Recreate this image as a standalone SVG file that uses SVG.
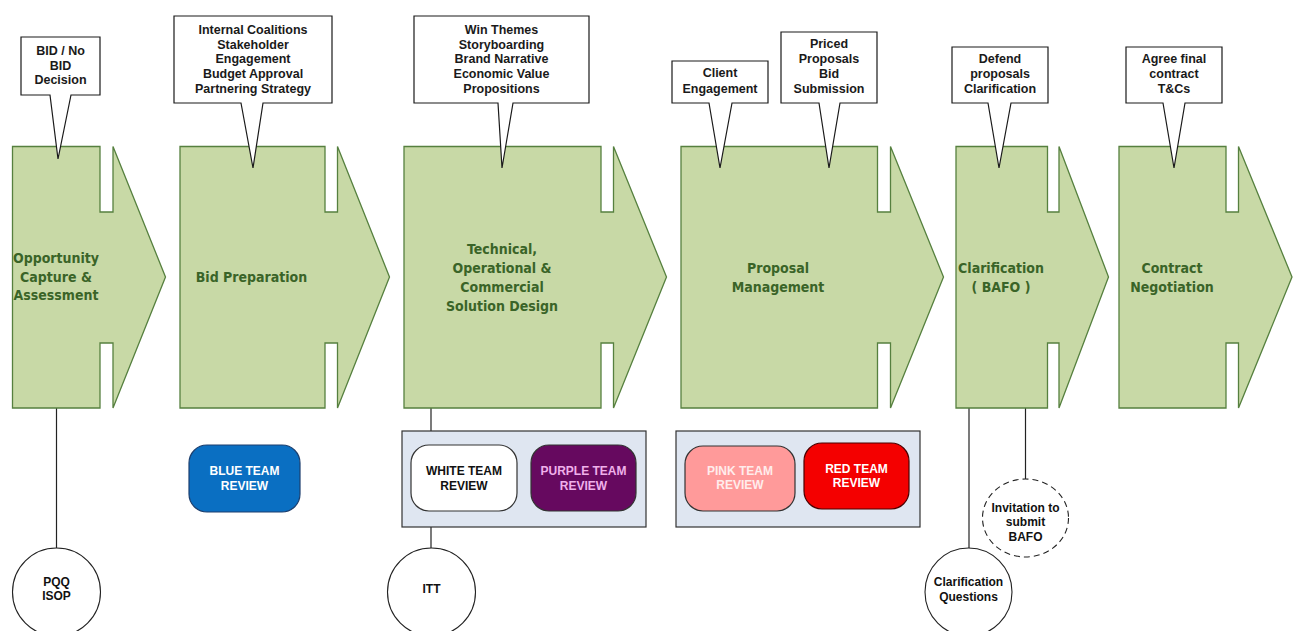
<svg xmlns="http://www.w3.org/2000/svg" width="1295" height="631" viewBox="0 0 1295 631">
<style>
.chev{fill:#c8d9a6;stroke:#56803f;stroke-width:1.3}
.lbl{font-family:"DejaVu Sans Condensed","DejaVu Sans",sans-serif;font-stretch:condensed;font-weight:bold;font-size:14px;fill:#3a6428;text-anchor:middle}
.call{fill:#ffffff;stroke:#1a1a1a;stroke-width:1.2}
.ct{font-family:"Liberation Sans",Arial,sans-serif;font-weight:bold;font-size:12.5px;fill:#1a1a1a;text-anchor:middle}
.rt{font-family:"Liberation Sans",Arial,sans-serif;font-weight:bold;font-size:12px;text-anchor:middle}
.conn{stroke:#222;stroke-width:1.2;fill:none}
.circ{fill:#ffffff;stroke:#222;stroke-width:1.1}
.grp{fill:#dfe6f1;stroke:#333;stroke-width:1.2}
</style>
<rect width="1295" height="631" fill="#ffffff"/>
<g id="connectors">
<line class="conn" x1="56.5" y1="408" x2="56.5" y2="548"/>
<line class="conn" x1="431" y1="408" x2="431" y2="431"/>
<line class="conn" x1="431" y1="527" x2="431" y2="548"/>
<line class="conn" x1="969" y1="408" x2="969" y2="548"/>
<line class="conn" x1="1025.5" y1="408" x2="1025.5" y2="479"/>
</g>
<g id="stage1">
<path class="chev" d="M12.5,146.5 H100 V212 H113 V146.5 L165.5,277 L113,408 V343 H100 V408 H12.5 Z"/>
<text class="lbl"><tspan x="56" y="263">Opportunity</tspan><tspan x="56" y="282">Capture &amp;</tspan><tspan x="56" y="300">Assessment</tspan></text>
</g>
<g id="stage2">
<path class="chev" d="M180,146.5 H325 V212 H337.5 V146.5 L389.5,277 L337.5,408 V343 H325 V408 H180 Z"/>
<text class="lbl" x="251.5" y="282">Bid Preparation</text>
</g>
<g id="stage3">
<path class="chev" d="M404,146.5 H601 V212 H613.5 V146.5 L666.5,277 L613.5,408 V343 H601 V408 H404 Z"/>
<text class="lbl"><tspan x="502" y="254">Technical,</tspan><tspan x="502" y="273">Operational &amp;</tspan><tspan x="502" y="291.5">Commercial</tspan><tspan x="502" y="310.5">Solution Design</tspan></text>
</g>
<g id="stage4">
<path class="chev" d="M681,146.5 H877.5 V212 H890.5 V146.5 L943.5,277 L890.5,408 V343 H877.5 V408 H681 Z"/>
<text class="lbl"><tspan x="778" y="273">Proposal</tspan><tspan x="778" y="291.5">Management</tspan></text>
</g>
<g id="stage5">
<path class="chev" d="M956,146.5 H1047.5 V212 H1059 V146.5 L1108.5,277 L1059,408 V343 H1047.5 V408 H956 Z"/>
<text class="lbl"><tspan x="1001" y="273">Clarification</tspan><tspan x="1001" y="291.5">( BAFO )</tspan></text>
</g>
<g id="stage6">
<path class="chev" d="M1119,146.5 H1226 V212 H1238.5 V146.5 L1292,277 L1238.5,408 V343 H1226 V408 H1119 Z"/>
<text class="lbl"><tspan x="1172" y="273">Contract</tspan><tspan x="1172" y="291.5">Negotiation</tspan></text>
</g>
<g id="callout1">
<path class="call" d="M21,37 H100 V95 H71 L58,159 L50,95 H21 Z"/>
<text class="ct"><tspan x="60.5" y="55">BID / No</tspan><tspan x="60.5" y="69.5">BID</tspan><tspan x="60.5" y="84">Decision</tspan></text>
</g>
<g id="callout2">
<path class="call" d="M174,16 H332 V103 H263 L253,168 L241,103 H174 Z"/>
<text class="ct"><tspan x="253" y="34">Internal Coalitions</tspan><tspan x="253" y="48.5">Stakeholder</tspan><tspan x="253" y="63">Engagement</tspan><tspan x="253" y="78">Budget Approval</tspan><tspan x="253" y="92.7">Partnering Strategy</tspan></text>
</g>
<g id="callout3">
<path class="call" d="M414,16 H589 V103 H513 L502,168 L498,103 H414 Z"/>
<text class="ct"><tspan x="501.5" y="34">Win Themes</tspan><tspan x="501.5" y="48.5">Storyboarding</tspan><tspan x="501.5" y="63">Brand Narrative</tspan><tspan x="501.5" y="78">Economic Value</tspan><tspan x="501.5" y="92.7">Propositions</tspan></text>
</g>
<g id="callout4">
<path class="call" d="M672,61 H768 V103 H732 L720,168 L709,103 H672 Z"/>
<text class="ct"><tspan x="720" y="77">Client</tspan><tspan x="720" y="92.5">Engagement</tspan></text>
</g>
<g id="callout5">
<path class="call" d="M781,32 H877 V103 H840 L829,168 L819,103 H781 Z"/>
<text class="ct"><tspan x="829" y="48">Priced</tspan><tspan x="829" y="63">Proposals</tspan><tspan x="829" y="78">Bid</tspan><tspan x="829" y="92.7">Submission</tspan></text>
</g>
<g id="callout6">
<path class="call" d="M952,47 H1048 V103 H1011 L999,168 L988,103 H952 Z"/>
<text class="ct"><tspan x="1000" y="63">Defend</tspan><tspan x="1000" y="78">proposals</tspan><tspan x="1000" y="92.7">Clarification</tspan></text>
</g>
<g id="callout7">
<path class="call" d="M1126,47 H1222 V103 H1185 L1174,168 L1163,103 H1126 Z"/>
<text class="ct"><tspan x="1174" y="63">Agree final</tspan><tspan x="1174" y="78">contract</tspan><tspan x="1174" y="92.7">T&amp;Cs</tspan></text>
</g>
<g id="blue-team">
<rect x="189" y="445" width="111" height="67" rx="18" fill="#0a6fc2" stroke="#1d3f6e" stroke-width="1.2"/>
<text class="rt" fill="#ffffff"><tspan x="244.5" y="475">BLUE TEAM</tspan><tspan x="244.5" y="489.5">REVIEW</tspan></text>
</g>
<g id="review-group-1">
<rect class="grp" x="402" y="431" width="244" height="96"/>
</g>
<g id="white-team">
<rect x="411" y="445" width="106" height="66" rx="18" fill="#ffffff" stroke="#333" stroke-width="1.2"/>
<text class="rt" fill="#111111"><tspan x="464" y="475">WHITE TEAM</tspan><tspan x="464" y="489.5">REVIEW</tspan></text>
</g>
<g id="purple-team">
<rect x="531" y="445" width="105" height="66" rx="18" fill="#66095f" stroke="#333" stroke-width="1.2"/>
<text class="rt" fill="#efb0ea"><tspan x="583.5" y="475">PURPLE TEAM</tspan><tspan x="583.5" y="489.5">REVIEW</tspan></text>
</g>
<g id="review-group-2">
<rect class="grp" x="676" y="431" width="244" height="96"/>
</g>
<g id="pink-team">
<rect x="685" y="446" width="110" height="65" rx="18" fill="#ff9a9a" stroke="#333" stroke-width="1.2"/>
<text class="rt" fill="#ffecec"><tspan x="740" y="474.5">PINK TEAM</tspan><tspan x="740" y="489">REVIEW</tspan></text>
</g>
<g id="red-team">
<rect x="804" y="443" width="105" height="66" rx="18" fill="#f40000" stroke="#4a0000" stroke-width="1.2"/>
<text class="rt" fill="#ffffff"><tspan x="856.5" y="472.5">RED TEAM</tspan><tspan x="856.5" y="487">REVIEW</tspan></text>
</g>
<g id="pqq">
<ellipse class="circ" cx="56.5" cy="592" rx="44" ry="44"/>
<text class="rt" fill="#111111"><tspan x="56.5" y="586">PQQ</tspan><tspan x="56.5" y="600">ISOP</tspan></text>
</g>
<g id="itt">
<ellipse class="circ" cx="431.5" cy="592" rx="44" ry="44"/>
<text class="rt" fill="#111111" x="431.5" y="592.5">ITT</text>
</g>
<g id="bafo-invite">
<ellipse class="circ" cx="1025.5" cy="518" rx="43" ry="39" stroke-dasharray="6,4"/>
<text class="rt" fill="#111111"><tspan x="1025.5" y="511.5">Invitation to</tspan><tspan x="1025.5" y="526">submit</tspan><tspan x="1025.5" y="540.5">BAFO</tspan></text>
</g>
<g id="clar-questions">
<ellipse class="circ" cx="968.5" cy="592" rx="43.5" ry="44"/>
<text class="rt" fill="#111111"><tspan x="968.5" y="585.5">Clarification</tspan><tspan x="968.5" y="600.5">Questions</tspan></text>
</g>
</svg>
